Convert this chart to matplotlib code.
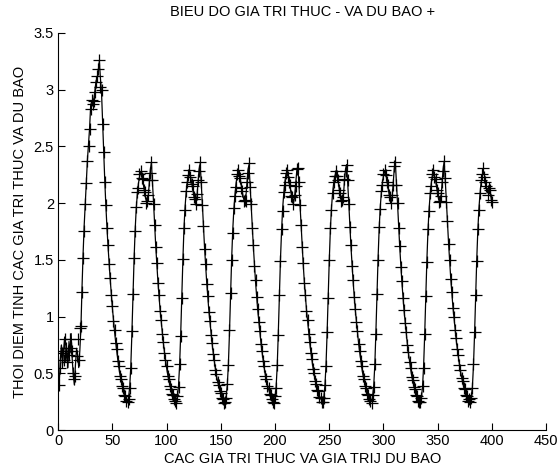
import numpy as np
import matplotlib
matplotlib.use("Agg")
import matplotlib.pyplot as plt

plt.rcParams["font.family"] = ["Liberation Sans", "DejaVu Sans"]

# gia tri thuc (line) and du bao (+), one point per index 1..400
thuc_dau = [0.40, 0.62, 0.75, 0.55, 0.70, 0.82, 0.60, 0.72, 0.55, 0.78,
            0.68, 0.85, 0.62, 0.48, 0.40, 0.58, 0.72, 0.66, 0.55, 0.70,
            0.90, 1.25, 1.55, 1.80, 2.00, 2.20, 2.38, 2.52, 2.66, 2.86,
            2.90, 2.88, 2.92, 3.00, 3.08, 3.10, 3.17, 3.25,
            3.10, 2.98, 2.72, 2.45, 2.20, 1.98, 1.79, 1.62, 1.47, 1.33,
            1.20, 1.08, 0.97, 0.87, 0.78, 0.70, 0.62, 0.55, 0.49, 0.44,
            0.40, 0.36, 0.32, 0.29, 0.27]
dubao_dau = [0.40, 0.55, 0.70, 0.68, 0.62, 0.80, 0.72, 0.60, 0.70, 0.66,
             0.80, 0.72, 0.70, 0.50, 0.45, 0.48, 0.65, 0.80, 0.62, 0.90,
             0.92, 1.22, 1.52, 1.75, 1.99, 2.18, 2.37, 2.50, 2.65, 2.83,
             2.91, 2.87, 2.90, 2.98, 3.07, 3.12, 3.18, 3.26,
             3.02, 3.00, 2.70, 2.45, 2.19, 1.98, 1.78, 1.63, 1.46, 1.34,
             1.19, 1.09, 0.96, 0.88, 0.77, 0.71, 0.61, 0.56, 0.48, 0.45,
             0.39, 0.37, 0.31, 0.30, 0.26]

thuc_c1 = [0.24, 0.29, 0.38, 0.56, 0.85, 1.18, 1.50, 1.76, 1.95, 2.08, 2.17, 2.23, 2.27, 2.25, 2.20,
           2.14, 2.08, 2.03, 2.00, 2.05, 2.17, 2.29, 2.36, 2.18, 2.00, 1.80, 1.62, 1.46, 1.31, 1.18,
           1.06, 0.96, 0.86, 0.77, 0.69, 0.62, 0.55, 0.49, 0.44, 0.40, 0.36, 0.33, 0.30, 0.28, 0.26]
dubao_c1 = [0.25, 0.27, 0.37, 0.55, 0.87, 1.20, 1.52, 1.75, 1.97, 2.10, 2.13, 2.26, 2.28, 2.22, 2.21,
            2.12, 2.10, 2.00, 2.02, 2.07, 2.20, 2.27, 2.36, 2.20, 1.99, 1.81, 1.61, 1.47, 1.30, 1.19,
            1.05, 0.97, 0.85, 0.78, 0.68, 0.62, 0.56, 0.48, 0.45, 0.39, 0.36, 0.32, 0.31, 0.27, 0.26]

thuc_c2 = [0.25, 0.29, 0.39, 0.57, 0.84, 1.17, 1.49, 1.77, 1.96, 2.09, 2.18, 2.24, 2.28, 2.24, 2.19,
           2.13, 2.07, 2.02, 2.01, 2.06, 2.18, 2.30, 2.35, 2.17, 1.99, 1.79, 1.61, 1.45, 1.30, 1.17,
           1.05, 0.95, 0.85, 0.76, 0.68, 0.61, 0.54, 0.48, 0.43, 0.39, 0.35, 0.32, 0.29, 0.27, 0.25]
dubao_c2 = [0.24, 0.30, 0.38, 0.58, 0.83, 1.16, 1.51, 1.78, 1.94, 2.11, 2.19, 2.25, 2.29, 2.23, 2.17,
            2.15, 2.05, 2.04, 1.99, 2.08, 2.20, 2.28, 2.36, 2.19, 1.98, 1.80, 1.60, 1.46, 1.29, 1.18,
            1.04, 0.96, 0.84, 0.77, 0.67, 0.62, 0.53, 0.49, 0.42, 0.40, 0.34, 0.33, 0.28, 0.27, 0.24]

thuc_c3 = [0.24, 0.30, 0.40, 0.58, 0.86, 1.19, 1.51, 1.76, 1.94, 2.07, 2.17, 2.24, 2.27, 2.26, 2.21,
           2.15, 2.09, 2.04, 2.01, 2.04, 2.16, 2.29, 2.34, 2.16, 1.98, 1.79, 1.62, 1.46, 1.31, 1.18,
           1.06, 0.96, 0.86, 0.77, 0.69, 0.62, 0.55, 0.49, 0.44, 0.40, 0.36, 0.33, 0.30, 0.28, 0.26]
dubao_c3 = [0.25, 0.28, 0.41, 0.57, 0.88, 1.21, 1.50, 1.74, 1.96, 2.06, 2.14, 2.26, 2.29, 2.24, 2.22,
            2.13, 2.11, 2.02, 2.03, 2.02, 2.19, 2.27, 2.35, 2.14, 1.99, 1.78, 1.63, 1.45, 1.32, 1.17,
            1.07, 0.95, 0.87, 0.76, 0.70, 0.61, 0.56, 0.48, 0.45, 0.39, 0.37, 0.32, 0.31, 0.27, 0.25]

thuc_c4 = [0.25, 0.29, 0.38, 0.56, 0.85, 1.18, 1.50, 1.75, 1.95, 2.08, 2.18, 2.25, 2.28, 2.25, 2.20,
           2.14, 2.08, 2.03, 2.00, 2.05, 2.17, 2.28, 2.33, 2.17, 1.99, 1.80, 1.62, 1.46, 1.31, 1.18,
           1.06, 0.96, 0.86, 0.77, 0.69, 0.62, 0.55, 0.49, 0.44, 0.40, 0.36, 0.33, 0.30, 0.28, 0.26]
dubao_c4 = [0.24, 0.30, 0.37, 0.57, 0.84, 1.19, 1.49, 1.77, 1.93, 2.10, 2.16, 2.27, 2.29, 2.23, 2.19,
            2.16, 2.06, 2.05, 1.99, 2.07, 2.15, 2.30, 2.31, 2.19, 1.98, 1.81, 1.61, 1.47, 1.30, 1.19,
            1.05, 0.97, 0.85, 0.78, 0.68, 0.63, 0.54, 0.50, 0.43, 0.41, 0.35, 0.34, 0.29, 0.28, 0.25]

thuc_c5 = [0.24, 0.29, 0.39, 0.57, 0.85, 1.17, 1.49, 1.76, 1.95, 2.08, 2.17, 2.23, 2.27, 2.25, 2.21,
           2.14, 2.08, 2.03, 2.01, 2.06, 2.19, 2.30, 2.34, 2.18, 2.00, 1.80, 1.62, 1.46, 1.31, 1.18,
           1.06, 0.96, 0.86, 0.77, 0.69, 0.62, 0.55, 0.49, 0.44, 0.40, 0.36, 0.33, 0.30, 0.28, 0.26]
dubao_c5 = [0.25, 0.28, 0.40, 0.56, 0.86, 1.16, 1.50, 1.78, 1.94, 2.09, 2.19, 2.24, 2.28, 2.24, 2.20,
            2.12, 2.09, 2.02, 2.03, 2.05, 2.21, 2.28, 2.34, 2.20, 1.99, 1.79, 1.63, 1.45, 1.32, 1.17,
            1.07, 0.95, 0.87, 0.76, 0.70, 0.61, 0.56, 0.48, 0.45, 0.39, 0.37, 0.32, 0.31, 0.27, 0.26]

thuc_c6 = [0.25, 0.30, 0.39, 0.57, 0.86, 1.19, 1.51, 1.77, 1.96, 2.09, 2.18, 2.24, 2.28, 2.26, 2.21,
           2.15, 2.09, 2.04, 2.01, 2.05, 2.18, 2.31, 2.35, 2.17, 1.99, 1.79, 1.61, 1.45, 1.30, 1.17,
           1.05, 0.95, 0.85, 0.76, 0.68, 0.61, 0.54, 0.48, 0.43, 0.39, 0.35, 0.32, 0.29, 0.27, 0.25]
dubao_c6 = [0.24, 0.31, 0.38, 0.58, 0.85, 1.20, 1.50, 1.79, 1.95, 2.11, 2.16, 2.26, 2.29, 2.25, 2.19,
            2.16, 2.07, 2.05, 2.00, 2.07, 2.16, 2.33, 2.36, 2.16, 2.00, 1.78, 1.62, 1.44, 1.31, 1.16,
            1.06, 0.94, 0.86, 0.75, 0.69, 0.60, 0.55, 0.47, 0.44, 0.38, 0.36, 0.31, 0.30, 0.26, 0.25]

thuc_c7 = [0.24, 0.29, 0.38, 0.56, 0.84, 1.17, 1.49, 1.75, 1.94, 2.07, 2.17, 2.24, 2.28, 2.25, 2.20,
           2.14, 2.08, 2.03, 2.00, 2.04, 2.17, 2.30, 2.37, 2.20, 2.02, 1.83, 1.65, 1.49, 1.34, 1.21,
           1.09, 0.99, 0.89, 0.80, 0.72, 0.65, 0.58, 0.52, 0.47, 0.42, 0.38, 0.35, 0.32, 0.29, 0.27, 0.26]
dubao_c7 = [0.25, 0.28, 0.39, 0.55, 0.85, 1.18, 1.48, 1.77, 1.93, 2.09, 2.15, 2.26, 2.29, 2.23, 2.21,
            2.12, 2.09, 2.01, 2.02, 2.06, 2.19, 2.28, 2.37, 2.22, 2.01, 1.84, 1.64, 1.50, 1.33, 1.22,
            1.08, 1.00, 0.88, 0.81, 0.71, 0.66, 0.57, 0.53, 0.46, 0.43, 0.37, 0.36, 0.31, 0.30, 0.26, 0.27]

thuc_cuoi = [0.24, 0.29, 0.38, 0.57, 0.85, 1.18, 1.50, 1.76, 1.95, 2.08, 2.18, 2.24, 2.27, 2.25,
             2.20, 2.13, 2.09, 2.15, 2.16, 2.06, 2.00]
dubao_cuoi = [0.25, 0.28, 0.37, 0.58, 0.86, 1.19, 1.49, 1.77, 1.94, 2.09, 2.20, 2.26, 2.31, 2.23,
              2.19, 2.15, 2.07, 2.13, 2.12, 2.03, 2.01]

thuc = np.concatenate([thuc_dau, thuc_c1, thuc_c2, thuc_c3, thuc_c4,
                       thuc_c5, thuc_c6, thuc_c7, thuc_cuoi])
dubao = np.concatenate([dubao_dau, dubao_c1, dubao_c2, dubao_c3, dubao_c4,
                        dubao_c5, dubao_c6, dubao_c7, dubao_cuoi])
t_thuc = np.arange(1, len(thuc) + 1)
t_dubao = np.arange(1, len(dubao) + 1)

fig = plt.figure(figsize=(5.59, 4.71), dpi=100)
ax = fig.add_axes([0.104, 0.087, 0.873, 0.843])

ax.plot(t_thuc, thuc, "-", color="black", linewidth=0.9)
ax.plot(t_dubao, dubao, "+", color="black", markersize=8, markeredgewidth=0.9)

ax.set_xlim(0, 450)
ax.set_ylim(0, 3.5)
ax.set_xticks(np.arange(0, 451, 50))
ax.set_yticks(np.arange(0, 3.51, 0.5))
ax.set_yticklabels(["0", "0.5", "1", "1.5", "2", "2.5", "3", "3.5"])
ax.spines["top"].set_visible(False)
ax.spines["right"].set_visible(False)
ax.tick_params(direction="in", length=5, labelsize=10.5, pad=3)

ax.set_title("BIEU DO GIA TRI THUC - VA DU BAO +", fontsize=10.5, pad=12)
ax.set_xlabel("CAC GIA TRI THUC VA GIA TRIJ DU BAO", fontsize=10.5, labelpad=3)
ax.set_ylabel("THOI DIEM TINH CAC GIA TRI THUC VA DU BAO", fontsize=10.5, labelpad=5)

fig.savefig("out.png", dpi=100)
